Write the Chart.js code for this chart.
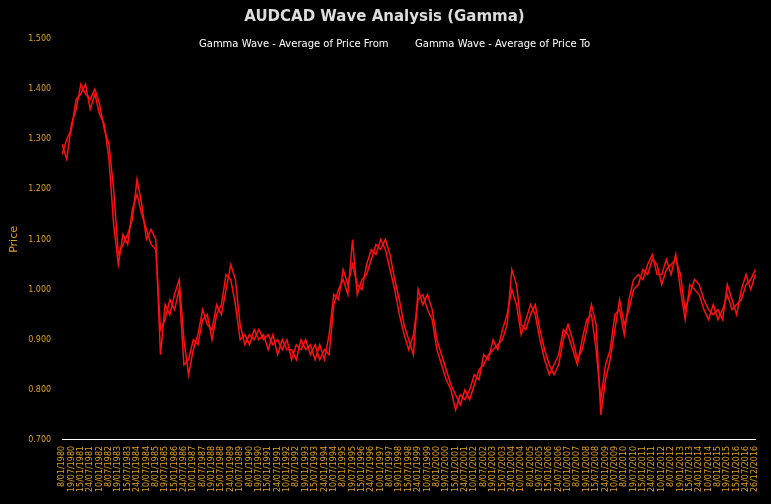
<!DOCTYPE html>
<html><head><meta charset="utf-8">
<script src="https://cdn.jsdelivr.net/npm/chart.js@4"></script>
<style>html,body{margin:0;padding:0;background:#000;}#w{width:771px;height:504px;}</style>
</head><body><div id="w"><canvas id="c"></canvas></div>
<script>
const priceFrom = [1.29,1.26,1.33,1.36,1.41,1.39,1.38,1.40,1.37,1.32,1.29,1.20,1.07,1.09,1.11,1.14,1.22,1.17,1.10,1.12,
1.10,0.87,0.97,0.95,0.99,1.02,0.90,0.83,0.88,0.91,0.96,0.93,0.92,0.97,0.95,1.00,1.05,1.02,0.93,0.89,
0.91,0.90,0.92,0.90,0.91,0.89,0.90,0.88,0.90,0.86,0.89,0.88,0.90,0.87,0.89,0.86,0.88,0.87,0.97,1.00,
1.02,0.99,1.10,0.99,1.02,1.03,1.06,1.09,1.08,1.10,1.07,1.02,0.98,0.93,0.90,0.87,1.00,0.97,0.99,0.96,
0.90,0.87,0.84,0.81,0.79,0.77,0.80,0.78,0.81,0.84,0.85,0.87,0.88,0.89,0.90,0.93,1.04,1.01,0.93,0.92,
0.95,0.97,0.92,0.88,0.85,0.83,0.85,0.90,0.93,0.90,0.86,0.88,0.92,0.97,0.93,0.75,0.82,0.86,0.92,0.98,
0.93,0.96,1.00,1.01,1.04,1.03,1.06,1.05,1.01,1.04,1.05,1.06,1.03,0.96,0.99,1.02,1.01,0.98,0.96,0.95,
0.96,0.94,1.01,0.98,0.95,1.00,1.03,1.00,1.03];
const priceTo = [1.27,1.30,1.32,1.38,1.39,1.41,1.36,1.39,1.35,1.33,1.26,1.13,1.05,1.11,1.09,1.16,1.19,1.15,1.12,1.09,
1.08,0.92,0.94,0.98,0.96,1.00,0.85,0.86,0.90,0.89,0.94,0.95,0.90,0.95,0.97,1.03,1.02,0.97,0.90,0.91,
0.89,0.92,0.90,0.91,0.88,0.91,0.87,0.90,0.88,0.88,0.86,0.90,0.88,0.89,0.86,0.89,0.86,0.91,0.99,0.98,
1.04,1.01,1.05,1.01,1.00,1.05,1.08,1.07,1.10,1.08,1.04,1.00,0.95,0.91,0.88,0.91,0.98,0.99,0.96,0.94,
0.88,0.85,0.82,0.80,0.76,0.79,0.78,0.80,0.83,0.82,0.87,0.86,0.90,0.88,0.92,0.95,1.00,0.97,0.91,0.94,
0.97,0.95,0.90,0.86,0.83,0.85,0.87,0.92,0.91,0.88,0.85,0.90,0.94,0.95,0.88,0.78,0.85,0.88,0.95,0.96,
0.91,0.98,1.02,1.03,1.02,1.05,1.07,1.03,1.03,1.06,1.03,1.07,1.00,0.94,1.01,1.00,0.99,0.96,0.94,0.97,
0.94,0.96,0.99,0.96,0.97,0.98,1.01,1.02,1.04];
const yTicks = [0.7,0.8,0.9,1.0,1.1,1.2,1.3,1.4,1.5];
const dateLabels = [];
const months = [1,4,7,10];
for (let i = 0; i < priceFrom.length; i++) {
  const y = 1980 + Math.floor(i/4), m = months[i%4];
  const d = [8,3,19,20,15,2,24,18,10,31][i%10];
  dateLabels.push(d + '/' + String(m).padStart(2,'0') + '/' + y);
}
dateLabels[dateLabels.length-1] = '26/12/2016';
const orange = '#e0a020';
const legendText = {
  id: 'legendText',
  afterDraw(chart) {
    const ctx = chart.ctx;
    ctx.save();
    ctx.fillStyle = '#ffffff';
    ctx.font = '10px "Liberation Sans Narrow", "DejaVu Sans"';
    ctx.textBaseline = 'middle';
    ctx.textAlign = 'left';
    chart.data.datasets.forEach((ds, i) => {
      ctx.fillText(ds.label, i === 0 ? 199 : 415, 44);
    });
    ctx.restore();
  }
};
new Chart(document.getElementById('c'), {
  type: 'line',
  data: { labels: dateLabels, datasets: [
    { label: 'Gamma Wave - Average of Price From', data: priceFrom, borderColor: '#ff1010', backgroundColor: '#000', borderWidth: 1.5, pointRadius: 0, tension: 0 },
    { label: 'Gamma Wave - Average of Price To', data: priceTo, borderColor: '#ff1010', backgroundColor: '#000', borderWidth: 1.5, pointRadius: 0, tension: 0 }
  ]},
  plugins: [legendText],
  options: {
    responsive: true, maintainAspectRatio: false, animation: false,
    layout: { padding: { left: 4, right: 6, top: 0, bottom: 6 } },
    plugins: {
      title: { display: true, text: 'AUDCAD Wave Analysis (Gamma)', color: '#dddddd', font: { family: 'DejaVu Sans', size: 15, weight: 'bold' }, padding: { top: 8, bottom: 13 } },
      legend: { display: false },
      tooltip: { enabled: false }
    },
    scales: {
      x: { grid: { display: false, drawTicks: false }, border: { color: '#ffffff', width: 1 },
        ticks: { color: orange, autoSkip: false, maxRotation: 90, minRotation: 90, font: { family: 'DejaVu Sans', size: 8 }, padding: 6,
          callback: function(v, i) { return i % 2 === 0 ? dateLabels[i] : ''; } } },
      y: { min: 0.7, max: 1.5, grid: { display: false }, border: { display: false },
        title: { display: true, text: 'Price', color: orange, font: { family: 'DejaVu Sans', size: 11 } },
        afterBuildTicks: s => { s.ticks = yTicks.map(v => ({ value: v })); },
        ticks: { color: orange, font: { family: 'DejaVu Sans', size: 8 }, callback: v => Number(v).toFixed(3) } }
    }
  }
});
</script></body></html>
